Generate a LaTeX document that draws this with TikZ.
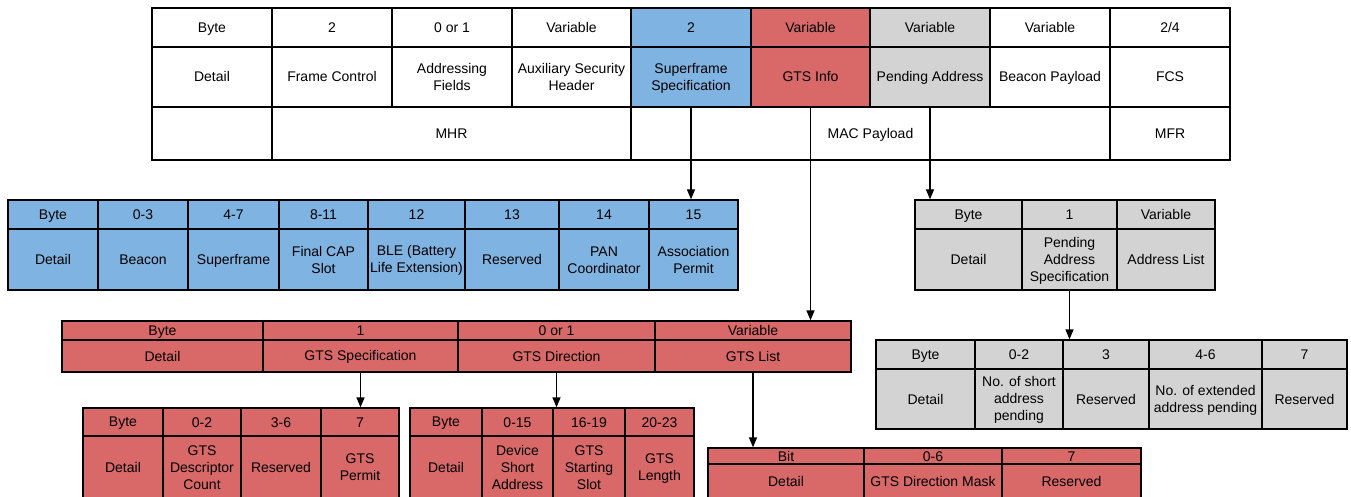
\documentclass[tikz,border=0pt]{standalone}
\usepackage{fontspec}
\setmainfont{Liberation Sans}
\usetikzlibrary{arrows.meta}
\definecolor{cblue}{HTML}{7FB3E1}
\definecolor{cred}{HTML}{D96868}
\definecolor{cgray}{HTML}{D3D3D3}
\tikzset{
  cellst/.style={draw=black, line width=1.3pt, inner sep=0pt, align=center, font=\fontsize{14}{17}\selectfont},
  arr/.style={line width=1.3pt, -{Triangle[width=8pt,length=10pt]}},
}
\newcommand\cstrut{\rule[-2pt]{0pt}{14pt}}
\newcommand\mycell[7]{\node[cellst, fill=#6, minimum width={(#4-#2)*1pt}, minimum height={(#5-#3)*1pt}] (#1) at ({(#2+#4)/2},{(#3+#5)/2}) {\cstrut #7\cstrut};}
\begin{document}
\begin{tikzpicture}[x=1pt,y=-1pt]
\useasboundingbox[fill=white] (0,0) rectangle (1351,497);
% ---------- top frame table ----------
\mycell{tb0}{152}{8}{272}{47}{white}{Byte}
\mycell{tb1}{272}{8}{392}{47}{white}{2}
\mycell{tb2}{392}{8}{512}{47}{white}{0 or 1}
\mycell{tb3}{512}{8}{631}{47}{white}{Variable}
\mycell{tb4}{631}{8}{751}{47}{cblue}{2}
\mycell{tb5}{751}{8}{870}{47}{cred}{Variable}
\mycell{tb6}{870}{8}{990}{47}{cgray}{Variable}
\mycell{tb7}{990}{8}{1110}{47}{white}{Variable}
\mycell{tb8}{1110}{8}{1230}{47}{white}{2/4}
\mycell{td0}{152}{47}{272}{107}{white}{Detail}
\mycell{td1}{272}{47}{392}{107}{white}{Frame Control}
\mycell{td2}{392}{47}{512}{107}{white}{Addressing\\Fields}
\mycell{td3}{512}{47}{631}{107}{white}{Auxiliary Security\\Header}
\mycell{tSF}{631}{47}{751}{107}{cblue}{Superframe\\Specification}
\mycell{tGTS}{751}{47}{870}{107}{cred}{GTS Info}
\mycell{tPA}{870}{47}{990}{107}{cgray}{Pending Address}
\mycell{td7}{990}{47}{1110}{107}{white}{Beacon Payload}
\mycell{td8}{1110}{47}{1230}{107}{white}{FCS}
\mycell{tp0}{152}{107}{272}{160}{white}{}
\mycell{tMHR}{272}{107}{631}{160}{white}{MHR}
\mycell{tMAC}{631}{107}{1110}{160}{white}{MAC Payload}
\mycell{tMFR}{1110}{107}{1230}{160}{white}{MFR}
% ---------- superframe specification (blue) ----------
\mycell{bb0}{8}{200}{98}{229}{cblue}{Byte}
\mycell{bb1}{98}{200}{188}{229}{cblue}{0-3}
\mycell{bb2}{188}{200}{279}{229}{cblue}{4-7}
\mycell{bb3}{279}{200}{368}{229}{cblue}{8-11}
\mycell{bb4}{368}{200}{465}{229}{cblue}{12}
\mycell{bb5}{465}{200}{559}{229}{cblue}{13}
\mycell{bb6}{559}{200}{649}{229}{cblue}{14}
\mycell{bb7}{649}{200}{738}{229}{cblue}{15}
\mycell{bd0}{8}{229}{98}{290}{cblue}{Detail}
\mycell{bd1}{98}{229}{188}{290}{cblue}{Beacon}
\mycell{bd2}{188}{229}{279}{290}{cblue}{Superframe}
\mycell{bd3}{279}{229}{368}{290}{cblue}{Final CAP\\Slot}
\mycell{bd4}{368}{229}{465}{290}{cblue}{BLE (Battery\\Life Extension)}
\mycell{bd5}{465}{229}{559}{290}{cblue}{Reserved}
\mycell{bd6}{559}{229}{649}{290}{cblue}{PAN\\Coordinator}
\mycell{bd7}{649}{229}{738}{290}{cblue}{Association\\Permit}
% ---------- pending address (gray) ----------
\mycell{gb0}{915}{200}{1022}{229}{cgray}{Byte}
\mycell{gb1}{1022}{200}{1117}{229}{cgray}{1}
\mycell{gb2}{1117}{200}{1215}{229}{cgray}{Variable}
\mycell{gd0}{915}{229}{1022}{290}{cgray}{Detail}
\mycell{gPAS}{1022}{229}{1117}{290}{cgray}{Pending\\Address\\Specification}
\mycell{gd2}{1117}{229}{1215}{290}{cgray}{Address List}
\mycell{hb0}{876}{340}{975}{369}{cgray}{Byte}
\mycell{hb1}{975}{340}{1063}{369}{cgray}{0-2}
\mycell{hb2}{1063}{340}{1149}{369}{cgray}{3}
\mycell{hb3}{1149}{340}{1262}{369}{cgray}{4-6}
\mycell{hb4}{1262}{340}{1347}{369}{cgray}{7}
\mycell{hd0}{876}{369}{975}{429}{cgray}{Detail}
\mycell{hd1}{975}{369}{1063}{429}{cgray}{No. of short\\address\\pending}
\mycell{hd2}{1063}{369}{1149}{429}{cgray}{Reserved}
\mycell{hd3}{1149}{369}{1262}{429}{cgray}{No. of extended\\address pending}
\mycell{hd4}{1262}{369}{1347}{429}{cgray}{Reserved}
% ---------- GTS info (red) ----------
\mycell{rb0}{62}{321}{263}{340}{cred}{Byte}
\mycell{rb1}{263}{321}{458}{340}{cred}{1}
\mycell{rb2}{458}{321}{655}{340}{cred}{0 or 1}
\mycell{rb3}{655}{321}{851}{340}{cred}{Variable}
\mycell{rd0}{62}{340}{263}{372}{cred}{Detail}
\mycell{rGS}{263}{340}{458}{372}{cred}{GTS Specification}
\mycell{rGD}{458}{340}{655}{372}{cred}{GTS Direction}
\mycell{rGL}{655}{340}{851}{372}{cred}{GTS List}
% GTS specification
\mycell{sb0}{83}{408}{163}{436}{cred}{Byte}
\mycell{sb1}{163}{408}{241}{436}{cred}{0-2}
\mycell{sb2}{241}{408}{321}{436}{cred}{3-6}
\mycell{sb3}{321}{408}{399}{436}{cred}{7}
\mycell{sd0}{83}{436}{163}{498.5}{cred}{Detail}
\mycell{sd1}{163}{436}{241}{498.5}{cred}{GTS\\Descriptor\\Count}
\mycell{sd2}{241}{436}{321}{498.5}{cred}{Reserved}
\mycell{sd3}{321}{436}{399}{498.5}{cred}{GTS\\Permit}
% GTS direction
\mycell{lb0}{410}{408}{482}{436}{cred}{Byte}
\mycell{lb1}{482}{408}{553}{436}{cred}{0-15}
\mycell{lb2}{553}{408}{625}{436}{cred}{16-19}
\mycell{lb3}{625}{408}{694}{436}{cred}{20-23}
\mycell{ld0}{410}{436}{482}{498.5}{cred}{Detail}
\mycell{ld1}{482}{436}{553}{498.5}{cred}{Device\\Short\\Address}
\mycell{ld2}{553}{436}{625}{498.5}{cred}{GTS\\Starting\\Slot}
\mycell{ld3}{625}{436}{694}{498.5}{cred}{GTS\\Length}
% GTS list
\mycell{mb0}{708}{448}{864}{464}{cred}{Bit}
\mycell{mb1}{864}{448}{1002}{464}{cred}{0-6}
\mycell{mb2}{1002}{448}{1141}{464}{cred}{7}
\mycell{md0}{708}{464}{864}{498.5}{cred}{Detail}
\mycell{md1}{864}{464}{1002}{498.5}{cred}{GTS Direction Mask}
\mycell{md2}{1002}{464}{1141}{498.5}{cred}{Reserved}
% ---------- arrows ----------
\draw[arr] (tSF.south) -- (tSF.south |- bb7.north);
\draw[arr] (tGTS.south) -- (tGTS.south |- rb3.north);
\draw[arr] (tPA.south) -- (tPA.south |- gb0.north);
\draw[arr] (gPAS.south) -- (gPAS.south |- hb2.north);
\draw[arr] (rGS.south) -- (rGS.south |- sb3.north);
\draw[arr] (rGD.south) -- (rGD.south |- lb2.north);
\draw[arr] (rGL.south) -- (rGL.south |- mb0.north);
\end{tikzpicture}
\end{document}
